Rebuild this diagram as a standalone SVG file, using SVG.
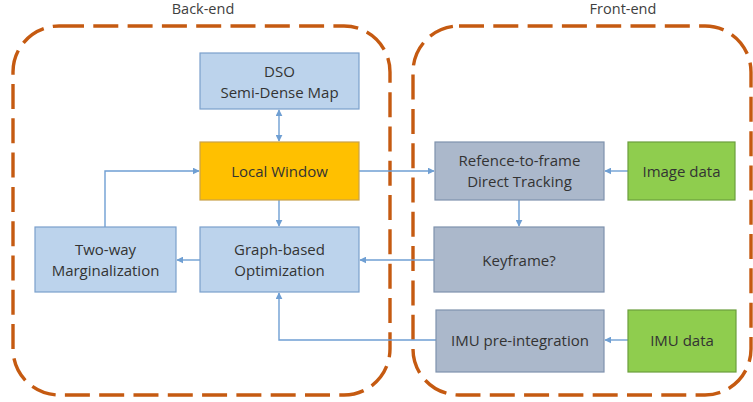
<svg xmlns="http://www.w3.org/2000/svg" width="753" height="402" viewBox="0 0 753 402">
  <defs>
    <style>
      .region { fill: none; stroke: #c55a11; stroke-width: 3.4; stroke-dasharray: 25 9.3; }
      .title { font-family: "Open Sans", "Liberation Sans", sans-serif; font-size: 14.5px; fill: #404040; text-anchor: middle; }
      .label { font-family: "Open Sans", "Liberation Sans", sans-serif; font-size: 15px; fill: #333333; text-anchor: middle; }
      .map { fill: #bcd3ec; stroke: #7ba0cc; stroke-width: 1.2; }
      .local { fill: #ffc000; stroke: #c9a148; stroke-width: 1.2; }
      .track { fill: #abb8cb; stroke: #7f92ad; stroke-width: 1.2; }
      .input { fill: #8fcd4e; stroke: #6b9e3c; stroke-width: 1.2; }
      .link { fill: none; stroke: #6f9fd3; stroke-width: 1.4; }
    </style>
    <marker id="arrow" viewBox="0 0 10 10" refX="9" refY="5" markerWidth="5" markerHeight="5" orient="auto-start-reverse">
      <path d="M0,0 L10,5 L0,10 z" fill="#6f9fd3"/>
    </marker>
  </defs>

  <!-- region frames -->
  <g id="backend">
    <rect class="region" x="13" y="26" width="377" height="369" rx="46" ry="46"/>
    <text class="title" x="203" y="14">Back-end</text>
  </g>
  <g id="frontend">
    <rect class="region" x="413" y="26" width="338" height="369" rx="46" ry="46"/>
    <text class="title" x="623" y="14">Front-end</text>
  </g>

  <!-- connectors -->
  <g id="connectors">
    <line class="link" x1="279" y1="110" x2="279" y2="141" marker-start="url(#arrow)" marker-end="url(#arrow)"/>
    <line class="link" x1="279" y1="200" x2="279" y2="226" marker-end="url(#arrow)"/>
    <polyline class="link" points="105,227 105,171 199,171" marker-end="url(#arrow)"/>
    <line class="link" x1="359" y1="171" x2="434" y2="171" marker-end="url(#arrow)"/>
    <line class="link" x1="628" y1="171" x2="605" y2="171" marker-end="url(#arrow)"/>
    <line class="link" x1="519" y1="200" x2="519" y2="226" marker-end="url(#arrow)"/>
    <line class="link" x1="434" y1="260" x2="360" y2="260" marker-end="url(#arrow)"/>
    <line class="link" x1="200" y1="260" x2="177" y2="260" marker-end="url(#arrow)"/>
    <polyline class="link" points="436,340 279,340 279,293" marker-end="url(#arrow)"/>
    <line class="link" x1="628" y1="340" x2="605" y2="340" marker-end="url(#arrow)"/>
  </g>

  <!-- nodes -->
  <g id="dso-map">
    <rect class="map" x="200" y="53" width="159" height="56"/>
    <text class="label" x="279.5" y="77">DSO</text>
    <text class="label" x="279.5" y="98">Semi-Dense Map</text>
  </g>
  <g id="local-window">
    <rect class="local" x="200" y="142" width="159" height="58"/>
    <text class="label" x="279.5" y="177">Local Window</text>
  </g>
  <g id="graph-optimization">
    <rect class="map" x="200" y="227" width="159" height="65"/>
    <text class="label" x="279.5" y="255">Graph-based</text>
    <text class="label" x="279.5" y="276">Optimization</text>
  </g>
  <g id="marginalization">
    <rect class="map" x="35" y="227" width="141" height="65"/>
    <text class="label" x="105.5" y="255">Two-way</text>
    <text class="label" x="105.5" y="276">Marginalization</text>
  </g>
  <g id="direct-tracking">
    <rect class="track" x="435" y="142" width="169" height="58"/>
    <text class="label" x="519.5" y="166">Refence-to-frame</text>
    <text class="label" x="519.5" y="187">Direct Tracking</text>
  </g>
  <g id="image-data">
    <rect class="input" x="628" y="142" width="107" height="58"/>
    <text class="label" x="681.5" y="177">Image data</text>
  </g>
  <g id="keyframe">
    <rect class="track" x="434" y="227" width="170" height="65"/>
    <text class="label" x="519" y="266">Keyframe?</text>
  </g>
  <g id="imu-preintegration">
    <rect class="track" x="436" y="310" width="168" height="62"/>
    <text class="label" x="520" y="346">IMU pre-integration</text>
  </g>
  <g id="imu-data">
    <rect class="input" x="628" y="310" width="108" height="62"/>
    <text class="label" x="682" y="346">IMU data</text>
  </g>
</svg>
